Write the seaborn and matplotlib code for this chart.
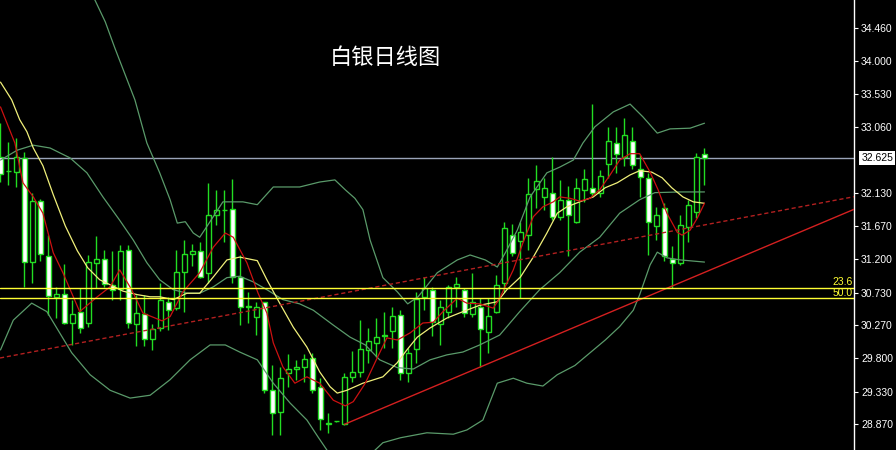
import numpy as np
import matplotlib
matplotlib.use('Agg')
import matplotlib.pyplot as plt
import matplotlib.transforms as mtransforms
import seaborn as sns

# ── Settings ──────────────────────────────────────────────────────────────────
sns.set_style('dark', {'axes.facecolor': 'black', 'figure.facecolor': 'black',
                       'axes.edgecolor': 'white', 'grid.color': 'black'})
plt.rcParams['font.family'] = ['Liberation Sans', 'DejaVu Sans']

CANDLE_GREEN = '#22dd22'
MA_RED = '#cc1111'
MA_YELLOW = '#f0f07a'
BAND_GREEN = '#5a9a6a'
FIB_YELLOW = '#ffff33'
LAST_GRAY = '#9aa4b8'

# ── Daily candles ────────────────────────────────────────────────────────────
opens = [32.65, 32.44, 32.43, 32.63, 31.16, 32.02, 31.25, 30.66, 30.71, 30.30,
         30.45, 30.30, 31.15, 31.20, 30.83, 30.78, 31.33, 30.28, 30.42, 30.07,
         30.23, 30.59, 30.51, 31.02, 31.27, 31.32, 31.00, 31.82, 31.89, 31.91,
         30.95, 30.53, 30.39, 30.59, 29.36, 29.05, 29.60, 29.65, 29.68, 29.80,
         29.39, 28.88, 28.91, 28.88, 29.54, 29.61, 29.92, 30.02, 30.12, 30.18,
         30.41, 29.59, 29.93, 30.66, 30.76, 30.29, 30.45, 30.81, 30.76, 30.43,
         30.52, 30.17, 30.46, 30.87, 31.54, 31.46, 31.54, 32.19, 32.08, 32.14,
         31.79, 32.04, 31.73, 32.18, 32.20, 32.13, 32.55, 32.84, 32.64, 32.87,
         32.47, 32.34, 31.67, 31.92, 31.21, 31.14, 31.65, 31.86, 32.68]
highs = [33.12, 32.86, 32.91, 32.72, 32.14, 32.05, 31.54, 30.81, 31.13, 30.63,
         30.79, 31.26, 31.53, 31.33, 31.31, 31.40, 31.40, 30.70, 30.70, 30.29,
         30.86, 30.67, 31.33, 31.47, 31.42, 31.45, 32.27, 32.18, 32.18, 32.33,
         31.26, 30.74, 30.60, 30.60, 29.71, 29.68, 29.86, 29.78, 29.86, 29.88,
         29.52, 29.03, 28.92, 29.59, 29.90, 30.34, 30.23, 30.37, 30.46, 30.53,
         30.48, 29.94, 30.74, 30.95, 30.81, 30.63, 30.84, 30.95, 30.79, 31.01,
         30.65, 30.65, 30.98, 31.73, 31.70, 31.73, 32.34, 32.53, 32.34, 32.64,
         32.32, 32.23, 32.34, 32.48, 33.39, 32.46, 33.07, 33.06, 33.19, 33.07,
         32.67, 32.42, 31.94, 31.99, 31.38, 31.82, 32.04, 32.70, 32.77]
lows = [32.29, 32.25, 32.22, 30.81, 30.87, 31.17, 30.41, 30.37, 30.29, 29.99,
        30.16, 30.25, 30.79, 30.81, 30.63, 30.63, 30.23, 29.97, 29.97, 29.92,
        30.18, 30.20, 30.48, 30.46, 31.10, 30.93, 30.86, 31.68, 31.45, 30.86,
        30.27, 30.30, 30.13, 29.31, 28.72, 28.72, 29.40, 29.50, 29.47, 29.31,
        28.79, 28.75, 28.90, 28.86, 29.47, 29.54, 29.74, 29.82, 29.94, 29.94,
        29.50, 29.47, 29.73, 30.48, 30.11, 29.99, 30.37, 30.53, 30.39, 30.39,
        29.68, 29.87, 30.44, 30.74, 31.24, 30.65, 31.33, 31.92, 31.90, 31.75,
        31.75, 31.24, 31.71, 32.01, 32.08, 32.08, 32.34, 32.42, 32.51, 32.48,
        32.08, 31.26, 31.47, 31.17, 30.79, 31.12, 31.45, 31.78, 32.25]
closes = [32.41, 32.45, 32.64, 31.16, 32.02, 31.28, 30.68, 30.71, 30.30, 30.43,
          30.23, 31.16, 31.20, 30.85, 30.77, 31.32, 30.30, 30.44, 30.08, 30.21,
          30.63, 30.49, 31.02, 31.28, 31.32, 30.95, 31.82, 31.90, 31.90, 30.95,
          30.53, 30.53, 30.52, 29.35, 29.03, 29.52, 29.65, 29.68, 29.79, 29.36,
          28.94, 28.89, 28.91, 29.54, 29.61, 29.93, 30.04, 30.10, 30.12, 30.40,
          29.60, 29.88, 30.64, 30.80, 30.32, 30.52, 30.81, 30.85, 30.44, 30.60,
          30.21, 30.40, 30.84, 31.64, 31.29, 31.58, 32.12, 32.30, 32.20, 31.80,
          32.04, 31.82, 32.21, 32.33, 32.14, 32.38, 32.87, 32.68, 32.95, 32.53,
          32.36, 31.73, 31.83, 31.25, 31.14, 31.68, 31.97, 32.64, 32.625]

# ── Indicator lines (sampled along the bar index) ────────────────────────────
RED_X = [0, 1.8, 2.8, 4.1, 5.3, 6.6, 7.8, 9.9, 12.1, 13.7, 14.9, 16.4, 17.8, 20.2, 21.2, 22.8,
         24.9, 26.6, 28.1, 29.1, 30.8, 32.2, 33.3, 34.1, 35.3, 36.8, 38.3, 39.9, 41.6, 43.1, 44.1, 45.6,
         47.1, 48.3, 49.6, 51.2, 52.8, 54.1, 55.3, 57.1, 58.3, 59.9, 61.6, 62.4, 64.1, 65.3, 66.6, 67.8,
         69.1, 69.9, 71.2, 72.4, 73.7, 74.9, 76.2, 77.4, 78.7, 79.9, 81.2, 82.2, 83.3, 84.6, 85.2, 86.2,
         87.1, 88]
RED_Y = [33.35, 32.84, 32.28, 32.08, 31.85, 31.29, 31.01, 30.46, 30.67, 30.81, 31.05, 30.77, 30.44, 30.33, 30.39, 30.74,
         31.01, 31.37, 31.57, 31.51, 31.15, 30.72, 30.44, 30.02, 29.68, 29.45, 29.54, 29.45, 29.21, 29.13, 29.19, 29.45,
         29.81, 30.09, 30.06, 30.16, 30.30, 30.31, 30.46, 30.65, 30.58, 30.57, 30.51, 30.65, 31.05, 31.43, 31.80, 31.94,
         32.01, 32.08, 32.06, 32.02, 32.06, 32.18, 32.39, 32.60, 32.69, 32.69, 32.43, 32.18, 31.85, 31.58, 31.54, 31.61,
         31.78, 31.99]

YEL_X = [0, 1.4, 2.4, 3.3, 4.1, 5.3, 6.6, 8.1, 9.6, 10.9, 12.4, 13.7, 15.3, 17.1, 18.7, 19.9,
         21.6, 23.3, 24.9, 26.6, 28.3, 29.9, 32.1, 33.3, 34.9, 36.6, 38.3, 39.9, 41.2, 42.1, 43.3, 45.3,
         47.8, 49.6, 50.8, 52.1, 53.7, 55.8, 57.8, 59.9, 62.1, 63.3, 65.0, 66.6, 68.3, 69.6, 70.8, 72.4,
         74.1, 75.6, 77.1, 78.7, 79.9, 81.4, 82.7, 83.9, 85.3, 86.6, 88]
YEL_Y = [33.70, 33.45, 33.17, 33.00, 32.77, 32.52, 32.11, 31.67, 31.32, 31.08, 30.91, 30.84, 30.75, 30.70, 30.67, 30.67,
         30.63, 30.72, 30.72, 30.95, 31.19, 31.23, 31.18, 30.91, 30.58, 30.24, 29.96, 29.61, 29.40, 29.31, 29.35, 29.45,
         29.54, 29.74, 29.92, 30.10, 30.23, 30.37, 30.46, 30.55, 30.60, 30.77, 30.95, 31.23, 31.57, 31.85, 31.94, 32.01,
         32.08, 32.21, 32.28, 32.39, 32.45, 32.43, 32.35, 32.21, 32.08, 32.01, 31.99]

BB_UP_X = [8.7, 10.6, 11.8, 13.1, 14.3, 15.6, 16.8, 18.3, 19.9, 21.2, 22.1, 23.1, 24.1, 24.9, 25.9, 27.8,
           30.3, 32.1, 34.1, 37.4, 39.9, 41.8, 43.1, 44.3, 45.3, 46.2, 47.8, 49.6, 50.9, 52.2, 54.6, 57.1,
           58.7, 60.6, 62.1, 63.1, 64.6, 66.2, 68.3, 69.9, 71.6, 72.8, 74.3, 76.6, 78.7, 80.3, 82.1, 83.7,
           86.2, 88]
BB_UP_Y = [35.56, 35.07, 34.86, 34.55, 34.18, 33.80, 33.45, 32.84, 32.42, 32.04, 31.71, 31.73, 31.57, 31.51, 31.68, 32.01,
           32.01, 31.97, 32.22, 32.22, 32.29, 32.32, 32.18, 32.06, 31.90, 31.47, 30.94, 30.74, 30.57, 30.67, 31.01, 31.19,
           31.26, 31.19, 31.09, 31.29, 31.61, 32.08, 32.42, 32.50, 32.60, 32.84, 33.07, 33.28, 33.39, 33.21, 32.98, 33.04,
           33.05, 33.12]

BB_MID_X = [0, 2.1, 4.1, 6.2, 8.7, 10.8, 12.8, 14.9, 16.6, 18.3, 19.9, 21.6, 23.3, 24.9, 26.6, 28.3,
            29.9, 31.6, 33.3, 35.3, 37.4, 39.1, 41.6, 43.7, 45.6, 47.4, 49.6, 51.6, 53.7, 55.8, 57.8, 59.9,
            62.4, 64.9, 67.4, 69.9, 72.4, 74.9, 77.4, 79.9, 81.8, 85.0, 88]
BB_MID_Y = [32.60, 32.74, 32.81, 32.77, 32.63, 32.42, 32.08, 31.75, 31.47, 31.15, 30.91, 30.77, 30.72, 30.72, 30.81, 30.94,
            30.96, 30.88, 30.77, 30.63, 30.57, 30.48, 30.27, 30.10, 29.99, 29.78, 29.67, 29.65, 29.78, 29.85, 29.89, 29.99,
            30.13, 30.46, 30.77, 31.01, 31.30, 31.51, 31.85, 32.04, 32.14, 32.15, 32.15]

BB_LOW_X = [0, 1.6, 3.9, 5.8, 7.4, 8.9, 11.2, 13.7, 16.2, 18.7, 21.2, 23.7, 26.2, 28.1, 29.9, 32.1,
            34.1, 36.2, 38.3, 39.7, 41.2, 43.7, 46.2, 47.8, 50.0, 53.3, 56.6, 58.3, 60.3, 62.1, 64.1, 65.8,
            67.8, 69.6, 71.8, 73.7, 75.6, 77.4, 79.1, 79.9, 81.2, 82.1, 83.3, 85.0, 88]
BB_LOW_Y = [29.92, 30.34, 30.58, 30.46, 30.16, 29.88, 29.57, 29.35, 29.24, 29.28, 29.50, 29.78, 29.99, 29.99, 29.89, 29.78,
            29.45, 29.17, 28.93, 28.69, 28.44, 28.34, 28.44, 28.61, 28.68, 28.75, 28.73, 28.79, 28.93, 29.45, 29.52, 29.45,
            29.41, 29.57, 29.70, 29.88, 30.06, 30.25, 30.48, 30.70, 31.12, 31.30, 31.22, 31.19, 31.16]

# ── Drawn objects ────────────────────────────────────────────────────────────
TREND_SOLID_X = [43, 106.7]
TREND_SOLID_Y = [28.87, 31.905]
TREND_DASH_X = [-0.06, 106.7]
TREND_DASH_Y = [29.806, 32.083]
FIB_LEVELS = [30.798, 30.649]
FIB_LABELS = ['23.6', '50.0']
LAST_PRICE = 32.625
TICK_VALUES = [34.46, 34.00, 33.53, 33.06, 32.13, 31.67, 31.20, 30.73, 30.27, 29.80, 29.33, 28.87]

# ── Figure ───────────────────────────────────────────────────────────────────
fig = plt.figure(figsize=(8.96, 4.5), dpi=100, facecolor='black')
ax = fig.add_axes([0, 0, 854 / 896, 1])
ax.set_facecolor('black')

o = np.array(opens); c = np.array(closes)
idx = np.arange(len(o))
bull = c > o

ax.vlines(idx, lows, highs, color=CANDLE_GREEN, lw=1, zorder=2)
ax.bar(idx, np.maximum(np.abs(c - o), 0.004), bottom=np.minimum(o, c), width=0.62,
       color=np.where(bull, 'black', 'white'), edgecolor=CANDLE_GREEN, linewidth=1, zorder=3)

for xs, ys, col in [(BB_UP_X, BB_UP_Y, BAND_GREEN), (BB_MID_X, BB_MID_Y, BAND_GREEN),
                    (BB_LOW_X, BB_LOW_Y, BAND_GREEN), (YEL_X, YEL_Y, MA_YELLOW),
                    (RED_X, RED_Y, MA_RED)]:
    sns.lineplot(x=xs, y=ys, ax=ax, color=col, lw=0.9, sort=False, estimator=None, zorder=4)

ax.plot(TREND_SOLID_X, TREND_SOLID_Y, color='#d42020', lw=1, zorder=5)
ax.plot(TREND_DASH_X, TREND_DASH_Y, color='#b32020', lw=1, dashes=(3, 2), zorder=5)

ax.axhline(LAST_PRICE, color=LAST_GRAY, lw=1, zorder=1)
for lvl, lab in zip(FIB_LEVELS, FIB_LABELS):
    ax.axhline(lvl, color=FIB_YELLOW, lw=1, zorder=5)
    ax.text(0.998, lvl + 0.01, lab, transform=mtransforms.blended_transform_factory(ax.transAxes, ax.transData),
            ha='right', va='bottom', color=FIB_YELLOW, fontsize=7.5)

ax.set_xlim(-0.0625, 106.69)
ax.set_ylim(28.507, 34.8595)

ax.set_xticks([])
ax.yaxis.tick_right()
ax.set_yticks(TICK_VALUES)
ax.set_yticklabels([f'{v:.3f}' for v in TICK_VALUES])
ax.tick_params(axis='y', colors='white', labelcolor='white', length=3, width=0.8, pad=2,
               labelsize=7.5, direction='out', right=True, left=False)
for side in ['left', 'top', 'bottom']:
    ax.spines[side].set_visible(False)
ax.spines['right'].set_color('white')
ax.spines['right'].set_linewidth(1)
ax.grid(False)

ax.text(1.0085, LAST_PRICE, f'{LAST_PRICE:.3f}',
        transform=mtransforms.blended_transform_factory(ax.transAxes, ax.transData),
        ha='left', va='center', color='black', fontsize=7.5, clip_on=False,
        bbox=dict(boxstyle='square,pad=0.2', fc='white', ec='none'))

fig.text(385 / 896, 1 - 58 / 450, '白银日线图', ha='center', va='center', color='white',
         fontsize=16, family=['Noto Sans CJK SC', 'DejaVu Sans'])

fig.savefig('out.png', dpi=100, facecolor='black')
